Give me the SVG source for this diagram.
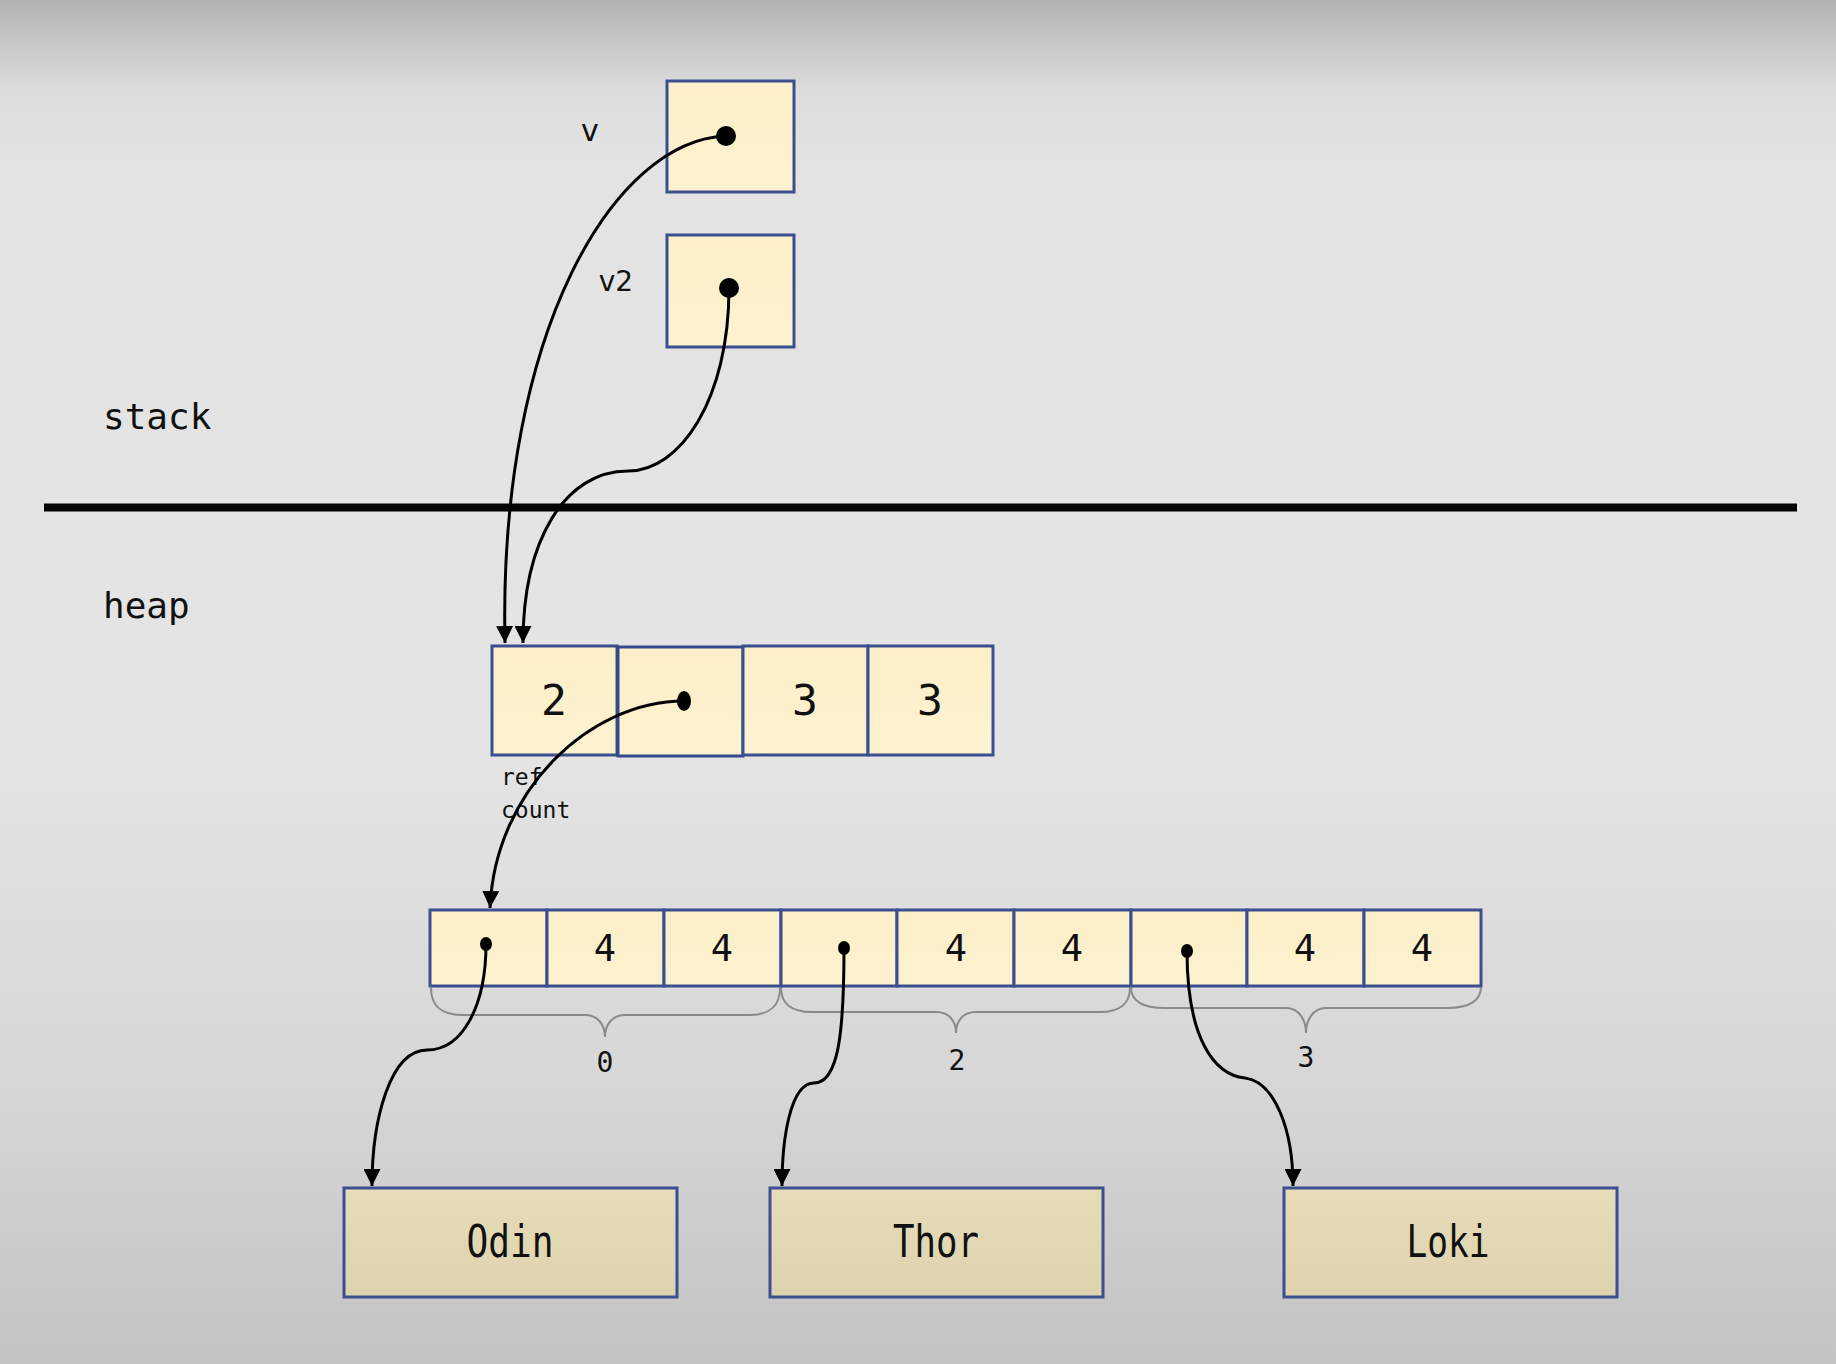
<svg xmlns="http://www.w3.org/2000/svg" width="1836" height="1364" viewBox="0 0 1836 1364">
<defs>
<linearGradient id="bg" x1="0" y1="0" x2="0" y2="1">
<stop offset="0" stop-color="#b3b3b3"/>
<stop offset="0.065" stop-color="#dcdcdc"/>
<stop offset="0.12" stop-color="#e3e3e3"/>
<stop offset="0.55" stop-color="#e4e4e4"/>
<stop offset="0.8" stop-color="#d6d6d6"/>
<stop offset="1" stop-color="#c3c3c3"/>
</linearGradient>
<linearGradient id="cellg" x1="0" y1="0" x2="0" y2="1">
<stop offset="0" stop-color="#fcefc9"/>
<stop offset="1" stop-color="#fdf2d0"/>
</linearGradient>
<linearGradient id="nameg" x1="0" y1="0" x2="0" y2="1">
<stop offset="0" stop-color="#e6dcb7"/>
<stop offset="1" stop-color="#ddd3ae"/>
</linearGradient>
<marker id="arr" viewBox="0 0 10 10" refX="10" refY="5" markerWidth="17" markerHeight="17" markerUnits="userSpaceOnUse" orient="auto">
<path d="M0,0 L10,5 L0,10 Z" fill="#000"/>
</marker>
</defs>
<style>
.cell{fill:url(#cellg);stroke:#3b4f8e;stroke-width:3}
.name{fill:url(#nameg);stroke:#3b4f8e;stroke-width:3}
.t{font-family:"DejaVu Sans Mono","Liberation Mono",monospace;fill:#111}
.lbl{font-family:"DejaVu Sans","Liberation Sans",sans-serif;fill:#111}
.conn{fill:none;stroke:#000;stroke-width:3}
.brace{fill:none;stroke:#8a8a8a;stroke-width:2}
.dot{fill:#000}
</style>
<rect x="0" y="0" width="1836" height="1364" fill="url(#bg)"/>

<g id="section-labels">
<text class="t" x="103" y="429" font-size="36">stack</text>
<text class="t" x="103" y="618" font-size="36">heap</text>
<line x1="44" y1="507.5" x2="1797" y2="507.5" stroke="#000" stroke-width="8"/>
</g>

<g id="stack-v">
<rect class="cell" x="667" y="81" width="127" height="111"/>
<text class="lbl" x="590" y="141" font-size="30" text-anchor="middle">v</text>
<circle class="dot" cx="726" cy="136" r="10"/>
</g>
<g id="stack-v2">
<rect class="cell" x="667" y="235" width="127" height="112"/>
<text class="lbl" x="616" y="291" font-size="28" text-anchor="middle">v2</text>
<circle class="dot" cx="729" cy="288" r="10"/>
</g>

<g id="heap-vec">
<rect class="cell" x="492" y="646" width="125" height="109"/>
<rect class="cell" x="618" y="647" width="125" height="109" style="stroke:#34488a"/>
<rect class="cell" x="743" y="646" width="125" height="109"/>
<rect class="cell" x="868" y="646" width="125" height="109"/>
<text class="t" x="554" y="715" font-size="43" text-anchor="middle">2</text>
<text class="t" x="805" y="715" font-size="43" text-anchor="middle">3</text>
<text class="t" x="930" y="715" font-size="43" text-anchor="middle">3</text>
<ellipse class="dot" cx="684" cy="701" rx="7" ry="10"/>
<text class="t" x="501" y="785" font-size="23">ref</text>
<text class="t" x="501" y="818" font-size="23">count</text>
</g>

<g id="heap-array">
<rect class="cell" x="430" y="910" width="117" height="76"/>
<rect class="cell" x="547" y="910" width="117" height="76"/>
<rect class="cell" x="664" y="910" width="117" height="76"/>
<rect class="cell" x="781" y="910" width="116" height="76"/>
<rect class="cell" x="897" y="910" width="117" height="76"/>
<rect class="cell" x="1014" y="910" width="117" height="76"/>
<rect class="cell" x="1131" y="910" width="116" height="76"/>
<rect class="cell" x="1247" y="910" width="117" height="76"/>
<rect class="cell" x="1364" y="910" width="117" height="76"/>
<text class="t" x="605" y="961" font-size="37" text-anchor="middle">4</text>
<text class="t" x="722" y="961" font-size="37" text-anchor="middle">4</text>
<text class="t" x="956" y="961" font-size="37" text-anchor="middle">4</text>
<text class="t" x="1072" y="961" font-size="37" text-anchor="middle">4</text>
<text class="t" x="1305" y="961" font-size="37" text-anchor="middle">4</text>
<text class="t" x="1422" y="961" font-size="37" text-anchor="middle">4</text>
<ellipse class="dot" cx="486" cy="944" rx="6" ry="7"/>
<ellipse class="dot" cx="844" cy="948" rx="6" ry="7"/>
<ellipse class="dot" cx="1187" cy="951" rx="6" ry="7"/>
</g>

<g id="braces">
<path class="brace" d="M431,988 C431,1005 441,1015 462,1015 L585,1015 C598,1015 605,1025 605,1037 C605,1025 612,1015 625,1015 L750,1015 C770,1015 780,1005 780,988"/>
<path class="brace" d="M781,988 C781,1003 791,1012 812,1012 L936,1012 C949,1012 956,1021 956,1033 C956,1021 963,1012 976,1012 L1100,1012 C1120,1012 1130,1003 1130,988"/>
<path class="brace" d="M1131,987 C1131,1000 1141,1008 1165,1008 L1286,1008 C1299,1008 1306,1020 1306,1033 C1306,1020 1313,1008 1326,1008 L1448,1008 C1470,1008 1481,1000 1481,987"/>
<text class="t" x="605" y="1072" font-size="28" text-anchor="middle">0</text>
<text class="t" x="957" y="1070" font-size="28" text-anchor="middle">2</text>
<text class="t" x="1306" y="1067" font-size="28" text-anchor="middle">3</text>
</g>

<g id="odin">
<rect class="name" x="344" y="1188" width="333" height="109"/>
<text class="t" x="510" y="1257" font-size="45" text-anchor="middle" textLength="87" lengthAdjust="spacingAndGlyphs">Odin</text>
</g>
<g id="thor">
<rect class="name" x="770" y="1188" width="333" height="109"/>
<text class="t" x="936" y="1257" font-size="45" text-anchor="middle" textLength="86" lengthAdjust="spacingAndGlyphs">Thor</text>
</g>
<g id="loki">
<rect class="name" x="1284" y="1188" width="333" height="109"/>
<text class="t" x="1448" y="1257" font-size="45" text-anchor="middle" textLength="83" lengthAdjust="spacingAndGlyphs">Loki</text>
</g>

<g id="connectors">
<path class="conn" marker-end="url(#arr)" d="M726,136 C615,140 498,330 505,643"/>
<path class="conn" marker-end="url(#arr)" d="M729,288 C729,400 680,471 628,471 C565,471 523,540 523,643"/>
<path class="conn" marker-end="url(#arr)" d="M684,701 C590,701 495,790 490,908"/>
<path class="conn" marker-end="url(#arr)" d="M486,944 C486,1005 463,1050 427,1050 C390,1050 372,1120 372,1186"/>
<path class="conn" marker-end="url(#arr)" d="M844,948 C844,1035 838,1083 814,1083 C790,1083 782,1140 782,1186"/>
<path class="conn" marker-end="url(#arr)" d="M1187,951 C1187,1040 1215,1075 1245,1078 C1275,1082 1293,1130 1293,1186"/>
</g>
</svg>
